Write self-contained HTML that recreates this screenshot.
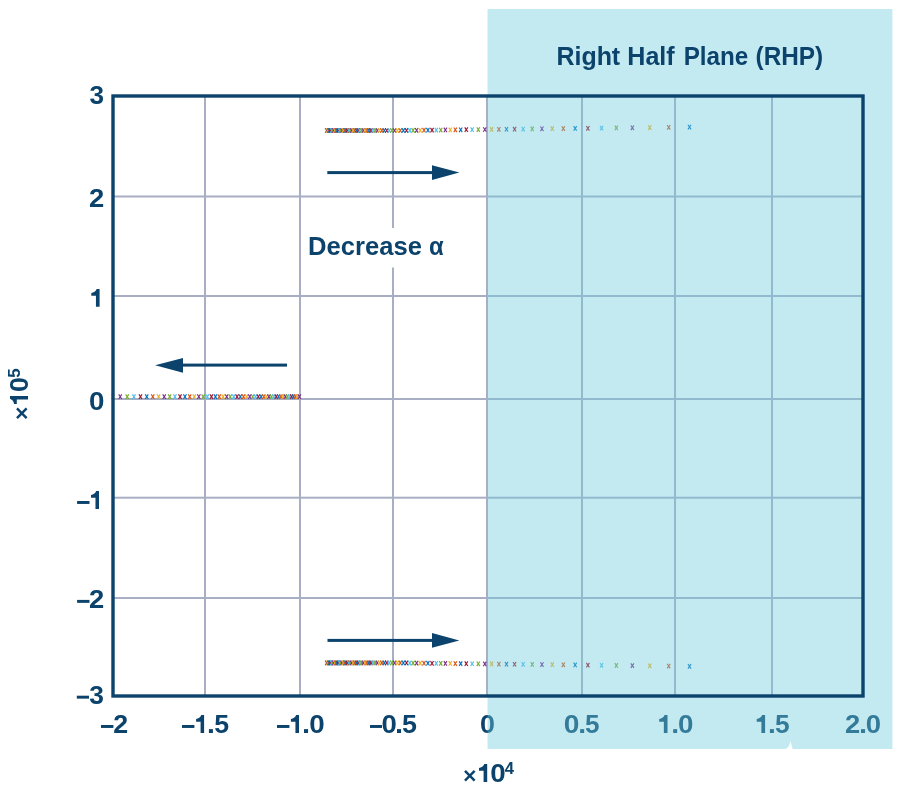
<!DOCTYPE html>
<html><head><meta charset="utf-8"><title>Root locus RHP</title>
<style>html,body{margin:0;padding:0;background:#fff;}body{width:903px;height:790px;overflow:hidden;font-family:"Liberation Sans",sans-serif;}svg{display:block;will-change:transform;}</style>
</head><body>
<svg width="903" height="790" viewBox="0 0 903 790" font-family="Liberation Sans, sans-serif" font-weight="bold"><rect x="204.00" y="96" width="2" height="600" fill="#A8AEC3"/>
<rect x="299.00" y="96" width="2" height="600" fill="#A8AEC3"/>
<rect x="392.00" y="96" width="2" height="600" fill="#A8AEC3"/>
<rect x="486.00" y="96" width="2" height="600" fill="#A8AEC3"/>
<rect x="581.00" y="96" width="2" height="600" fill="#A8AEC3"/>
<rect x="674.00" y="96" width="2" height="600" fill="#A8AEC3"/>
<rect x="771.00" y="96" width="2" height="600" fill="#A8AEC3"/>
<rect x="113" y="195.50" width="750" height="2" fill="#A8AEC3"/>
<rect x="113" y="295.00" width="750" height="2" fill="#A8AEC3"/>
<rect x="113" y="398.00" width="750" height="2" fill="#A8AEC3"/>
<rect x="113" y="496.70" width="750" height="2" fill="#A8AEC3"/>
<rect x="113" y="597.00" width="750" height="2" fill="#A8AEC3"/>
<rect x="304" y="228" width="146" height="39.5" fill="#fff"/>
<g stroke-width="1.15" fill="none"><path d="M111.40 394.40L114.50 399.00M114.50 394.40L111.40 399.00" stroke="#EDB120"/><path d="M118.68 394.40L121.78 399.00M121.78 394.40L118.68 399.00" stroke="#7E2F8E"/><path d="M125.69 394.40L128.79 399.00M128.79 394.40L125.69 399.00" stroke="#77AC30"/><path d="M132.43 394.40L135.53 399.00M135.53 394.40L132.43 399.00" stroke="#4DBEEE"/><path d="M138.93 394.40L142.03 399.00M142.03 394.40L138.93 399.00" stroke="#A2142F"/><path d="M145.19 394.40L148.29 399.00M148.29 394.40L145.19 399.00" stroke="#0072BD"/><path d="M151.23 394.40L154.33 399.00M154.33 394.40L151.23 399.00" stroke="#D95319"/><path d="M157.05 394.40L160.15 399.00M160.15 394.40L157.05 399.00" stroke="#EDB120"/><path d="M162.68 394.40L165.78 399.00M165.78 394.40L162.68 399.00" stroke="#7E2F8E"/><path d="M168.12 394.40L171.22 399.00M171.22 394.40L168.12 399.00" stroke="#77AC30"/><path d="M173.38 394.40L176.48 399.00M176.48 394.40L173.38 399.00" stroke="#4DBEEE"/><path d="M178.47 394.40L181.57 399.00M181.57 394.40L178.47 399.00" stroke="#A2142F"/><path d="M183.40 394.40L186.50 399.00M186.50 394.40L183.40 399.00" stroke="#0072BD"/><path d="M188.16 394.40L191.26 399.00M191.26 394.40L188.16 399.00" stroke="#D95319"/><path d="M192.79 394.40L195.89 399.00M195.89 394.40L192.79 399.00" stroke="#EDB120"/><path d="M197.27 394.40L200.37 399.00M200.37 394.40L197.27 399.00" stroke="#7E2F8E"/><path d="M201.61 394.40L204.71 399.00M204.71 394.40L201.61 399.00" stroke="#77AC30"/><path d="M205.83 394.40L208.93 399.00M208.93 394.40L205.83 399.00" stroke="#4DBEEE"/><path d="M209.92 394.40L213.02 399.00M213.02 394.40L209.92 399.00" stroke="#A2142F"/><path d="M213.90 394.40L217.00 399.00M217.00 394.40L213.90 399.00" stroke="#0072BD"/><path d="M217.76 394.40L220.86 399.00M220.86 394.40L217.76 399.00" stroke="#D95319"/><path d="M221.51 394.40L224.61 399.00M224.61 394.40L221.51 399.00" stroke="#EDB120"/><path d="M225.17 394.40L228.27 399.00M228.27 394.40L225.17 399.00" stroke="#7E2F8E"/><path d="M228.72 394.40L231.82 399.00M231.82 394.40L228.72 399.00" stroke="#77AC30"/><path d="M232.17 394.40L235.27 399.00M235.27 394.40L232.17 399.00" stroke="#4DBEEE"/><path d="M235.54 394.40L238.64 399.00M238.64 394.40L235.54 399.00" stroke="#A2142F"/><path d="M238.81 394.40L241.91 399.00M241.91 394.40L238.81 399.00" stroke="#0072BD"/><path d="M242.00 394.40L245.10 399.00M245.10 394.40L242.00 399.00" stroke="#D95319"/><path d="M245.11 394.40L248.21 399.00M248.21 394.40L245.11 399.00" stroke="#EDB120"/><path d="M248.15 394.40L251.25 399.00M251.25 394.40L248.15 399.00" stroke="#7E2F8E"/><path d="M251.10 394.40L254.20 399.00M254.20 394.40L251.10 399.00" stroke="#77AC30"/><path d="M253.99 394.40L257.09 399.00M257.09 394.40L253.99 399.00" stroke="#4DBEEE"/><path d="M256.80 394.40L259.90 399.00M259.90 394.40L256.80 399.00" stroke="#A2142F"/><path d="M259.55 394.40L262.65 399.00M262.65 394.40L259.55 399.00" stroke="#0072BD"/><path d="M262.23 394.40L265.33 399.00M265.33 394.40L262.23 399.00" stroke="#D95319"/><path d="M264.85 394.40L267.95 399.00M267.95 394.40L264.85 399.00" stroke="#EDB120"/><path d="M267.40 394.40L270.50 399.00M270.50 394.40L267.40 399.00" stroke="#7E2F8E"/><path d="M269.90 394.40L273.00 399.00M273.00 394.40L269.90 399.00" stroke="#77AC30"/><path d="M272.35 394.40L275.45 399.00M275.45 394.40L272.35 399.00" stroke="#4DBEEE"/><path d="M274.73 394.40L277.83 399.00M277.83 394.40L274.73 399.00" stroke="#A2142F"/><path d="M277.07 394.40L280.17 399.00M280.17 394.40L277.07 399.00" stroke="#0072BD"/><path d="M279.35 394.40L282.45 399.00M282.45 394.40L279.35 399.00" stroke="#D95319"/><path d="M281.59 394.40L284.69 399.00M284.69 394.40L281.59 399.00" stroke="#EDB120"/><path d="M283.78 394.40L286.88 399.00M286.88 394.40L283.78 399.00" stroke="#7E2F8E"/><path d="M285.92 394.40L289.02 399.00M289.02 394.40L285.92 399.00" stroke="#77AC30"/><path d="M288.01 394.40L291.11 399.00M291.11 394.40L288.01 399.00" stroke="#4DBEEE"/><path d="M290.06 394.40L293.16 399.00M293.16 394.40L290.06 399.00" stroke="#A2142F"/><path d="M292.07 394.40L295.17 399.00M295.17 394.40L292.07 399.00" stroke="#0072BD"/><path d="M294.04 394.40L297.14 399.00M297.14 394.40L294.04 399.00" stroke="#D95319"/><path d="M295.97 394.40L299.07 399.00M299.07 394.40L295.97 399.00" stroke="#EDB120"/><path d="M297.86 394.40L300.96 399.00M300.96 394.40L297.86 399.00" stroke="#7E2F8E"/><path d="M325.15 128.20L328.25 132.80M328.25 128.20L325.15 132.80" stroke="#7E2F8E"/><path d="M325.15 660.60L328.25 665.20M328.25 660.60L325.15 665.20" stroke="#7E2F8E"/><path d="M326.10 128.20L329.20 132.80M329.20 128.20L326.10 132.80" stroke="#EDB120"/><path d="M326.10 660.60L329.20 665.20M329.20 660.60L326.10 665.20" stroke="#EDB120"/><path d="M327.08 128.20L330.18 132.80M330.18 128.20L327.08 132.80" stroke="#D95319"/><path d="M327.08 660.60L330.18 665.20M330.18 660.60L327.08 665.20" stroke="#D95319"/><path d="M328.07 128.20L331.17 132.80M331.17 128.20L328.07 132.80" stroke="#0072BD"/><path d="M328.07 660.60L331.17 665.20M331.17 660.60L328.07 665.20" stroke="#0072BD"/><path d="M329.08 128.20L332.18 132.80M332.18 128.20L329.08 132.80" stroke="#A2142F"/><path d="M329.08 660.60L332.18 665.20M332.18 660.60L329.08 665.20" stroke="#A2142F"/><path d="M330.12 128.20L333.22 132.80M333.22 128.20L330.12 132.80" stroke="#4DBEEE"/><path d="M330.12 660.60L333.22 665.20M333.22 660.60L330.12 665.20" stroke="#4DBEEE"/><path d="M331.18 128.20L334.28 132.80M334.28 128.20L331.18 132.80" stroke="#77AC30"/><path d="M331.18 660.60L334.28 665.20M334.28 660.60L331.18 665.20" stroke="#77AC30"/><path d="M332.26 128.20L335.36 132.80M335.36 128.20L332.26 132.80" stroke="#7E2F8E"/><path d="M332.26 660.60L335.36 665.20M335.36 660.60L332.26 665.20" stroke="#7E2F8E"/><path d="M333.36 128.20L336.46 132.80M336.46 128.20L333.36 132.80" stroke="#EDB120"/><path d="M333.36 660.60L336.46 665.20M336.46 660.60L333.36 665.20" stroke="#EDB120"/><path d="M334.49 128.20L337.59 132.80M337.59 128.20L334.49 132.80" stroke="#D95319"/><path d="M334.49 660.60L337.59 665.20M337.59 660.60L334.49 665.20" stroke="#D95319"/><path d="M335.64 128.20L338.74 132.80M338.74 128.20L335.64 132.80" stroke="#0072BD"/><path d="M335.64 660.60L338.74 665.20M338.74 660.60L335.64 665.20" stroke="#0072BD"/><path d="M336.81 128.20L339.91 132.80M339.91 128.20L336.81 132.80" stroke="#A2142F"/><path d="M336.81 660.60L339.91 665.20M339.91 660.60L336.81 665.20" stroke="#A2142F"/><path d="M338.02 128.20L341.12 132.80M341.12 128.20L338.02 132.80" stroke="#4DBEEE"/><path d="M338.02 660.60L341.12 665.20M341.12 660.60L338.02 665.20" stroke="#4DBEEE"/><path d="M339.25 128.20L342.35 132.80M342.35 128.20L339.25 132.80" stroke="#77AC30"/><path d="M339.25 660.60L342.35 665.20M342.35 660.60L339.25 665.20" stroke="#77AC30"/><path d="M340.51 128.20L343.61 132.80M343.61 128.20L340.51 132.80" stroke="#7E2F8E"/><path d="M340.51 660.60L343.61 665.20M343.61 660.60L340.51 665.20" stroke="#7E2F8E"/><path d="M341.80 128.20L344.90 132.80M344.90 128.20L341.80 132.80" stroke="#EDB120"/><path d="M341.80 660.60L344.90 665.20M344.90 660.60L341.80 665.20" stroke="#EDB120"/><path d="M343.11 128.20L346.21 132.80M346.21 128.20L343.11 132.80" stroke="#D95319"/><path d="M343.11 660.60L346.21 665.20M346.21 660.60L343.11 665.20" stroke="#D95319"/><path d="M344.46 128.20L347.56 132.80M347.56 128.20L344.46 132.80" stroke="#0072BD"/><path d="M344.46 660.60L347.56 665.20M347.56 660.60L344.46 665.20" stroke="#0072BD"/><path d="M345.85 128.20L348.95 132.80M348.95 128.20L345.85 132.80" stroke="#A2142F"/><path d="M345.85 660.60L348.95 665.20M348.95 660.60L345.85 665.20" stroke="#A2142F"/><path d="M347.26 128.20L350.36 132.80M350.36 128.20L347.26 132.80" stroke="#4DBEEE"/><path d="M347.26 660.60L350.36 665.20M350.36 660.60L347.26 665.20" stroke="#4DBEEE"/><path d="M348.71 128.20L351.81 132.80M351.81 128.20L348.71 132.80" stroke="#77AC30"/><path d="M348.71 660.60L351.81 665.20M351.81 660.60L348.71 665.20" stroke="#77AC30"/><path d="M350.20 128.20L353.30 132.80M353.30 128.20L350.20 132.80" stroke="#7E2F8E"/><path d="M350.20 660.60L353.30 665.20M353.30 660.60L350.20 665.20" stroke="#7E2F8E"/><path d="M351.73 128.20L354.83 132.80M354.83 128.20L351.73 132.80" stroke="#EDB120"/><path d="M351.73 660.60L354.83 665.20M354.83 660.60L351.73 665.20" stroke="#EDB120"/><path d="M353.29 128.20L356.39 132.80M356.39 128.20L353.29 132.80" stroke="#D95319"/><path d="M353.29 660.60L356.39 665.20M356.39 660.60L353.29 665.20" stroke="#D95319"/><path d="M354.90 128.20L358.00 132.80M358.00 128.20L354.90 132.80" stroke="#0072BD"/><path d="M354.90 660.60L358.00 665.20M358.00 660.60L354.90 665.20" stroke="#0072BD"/><path d="M356.54 128.20L359.64 132.80M359.64 128.20L356.54 132.80" stroke="#A2142F"/><path d="M356.54 660.60L359.64 665.20M359.64 660.60L356.54 665.20" stroke="#A2142F"/><path d="M358.23 128.20L361.33 132.80M361.33 128.20L358.23 132.80" stroke="#4DBEEE"/><path d="M358.23 660.60L361.33 665.20M361.33 660.60L358.23 665.20" stroke="#4DBEEE"/><path d="M359.97 128.20L363.07 132.80M363.07 128.20L359.97 132.80" stroke="#77AC30"/><path d="M359.97 660.60L363.07 665.20M363.07 660.60L359.97 665.20" stroke="#77AC30"/><path d="M361.75 128.20L364.85 132.80M364.85 128.20L361.75 132.80" stroke="#7E2F8E"/><path d="M361.75 660.60L364.85 665.20M364.85 660.60L361.75 665.20" stroke="#7E2F8E"/><path d="M363.59 128.20L366.69 132.80M366.69 128.20L363.59 132.80" stroke="#EDB120"/><path d="M363.59 660.60L366.69 665.20M366.69 660.60L363.59 665.20" stroke="#EDB120"/><path d="M365.47 128.20L368.57 132.80M368.57 128.20L365.47 132.80" stroke="#D95319"/><path d="M365.47 660.60L368.57 665.20M368.57 660.60L365.47 665.20" stroke="#D95319"/><path d="M367.41 128.20L370.51 132.80M370.51 128.20L367.41 132.80" stroke="#0072BD"/><path d="M367.41 660.60L370.51 665.20M370.51 660.60L367.41 665.20" stroke="#0072BD"/><path d="M369.41 128.20L372.51 132.80M372.51 128.20L369.41 132.80" stroke="#A2142F"/><path d="M369.41 660.60L372.51 665.20M372.51 660.60L369.41 665.20" stroke="#A2142F"/><path d="M371.46 128.20L374.56 132.80M374.56 128.20L371.46 132.80" stroke="#4DBEEE"/><path d="M371.46 660.60L374.56 665.20M374.56 660.60L371.46 665.20" stroke="#4DBEEE"/><path d="M373.57 128.20L376.67 132.80M376.67 128.20L373.57 132.80" stroke="#77AC30"/><path d="M373.57 660.60L376.67 665.20M376.67 660.60L373.57 665.20" stroke="#77AC30"/><path d="M375.75 128.20L378.85 132.80M378.85 128.20L375.75 132.80" stroke="#7E2F8E"/><path d="M375.75 660.60L378.85 665.20M378.85 660.60L375.75 665.20" stroke="#7E2F8E"/><path d="M378.00 128.20L381.10 132.80M381.10 128.20L378.00 132.80" stroke="#EDB120"/><path d="M378.00 660.60L381.10 665.20M381.10 660.60L378.00 665.20" stroke="#EDB120"/><path d="M380.32 128.20L383.42 132.80M383.42 128.20L380.32 132.80" stroke="#D95319"/><path d="M380.32 660.60L383.42 665.20M383.42 660.60L380.32 665.20" stroke="#D95319"/><path d="M382.70 128.20L385.80 132.80M385.80 128.20L382.70 132.80" stroke="#0072BD"/><path d="M382.70 660.60L385.80 665.20M385.80 660.60L382.70 665.20" stroke="#0072BD"/><path d="M385.17 128.20L388.27 132.80M388.27 128.20L385.17 132.80" stroke="#A2142F"/><path d="M385.17 660.60L388.27 665.20M388.27 660.60L385.17 665.20" stroke="#A2142F"/><path d="M387.72 128.20L390.82 132.80M390.82 128.20L387.72 132.80" stroke="#4DBEEE"/><path d="M387.72 660.60L390.82 665.20M390.82 660.60L387.72 665.20" stroke="#4DBEEE"/><path d="M390.35 128.20L393.45 132.80M393.45 128.20L390.35 132.80" stroke="#77AC30"/><path d="M390.35 660.60L393.45 665.20M393.45 660.60L390.35 665.20" stroke="#77AC30"/><path d="M393.07 128.20L396.17 132.80M396.17 128.20L393.07 132.80" stroke="#7E2F8E"/><path d="M393.07 660.60L396.17 665.20M396.17 660.60L393.07 665.20" stroke="#7E2F8E"/><path d="M395.89 128.20L398.99 132.80M398.99 128.20L395.89 132.80" stroke="#EDB120"/><path d="M395.89 660.60L398.99 665.20M398.99 660.60L395.89 665.20" stroke="#EDB120"/><path d="M398.80 128.20L401.90 132.80M401.90 128.20L398.80 132.80" stroke="#D95319"/><path d="M398.80 660.60L401.90 665.20M401.90 660.60L398.80 665.20" stroke="#D95319"/><path d="M401.82 128.16L404.92 132.76M404.92 128.16L401.82 132.76" stroke="#0072BD"/><path d="M401.82 660.64L404.92 665.24M404.92 660.64L401.82 665.24" stroke="#0072BD"/><path d="M404.95 128.12L408.05 132.72M408.05 128.12L404.95 132.72" stroke="#A2142F"/><path d="M404.95 660.68L408.05 665.28M408.05 660.68L404.95 665.28" stroke="#A2142F"/><path d="M408.19 128.09L411.29 132.69M411.29 128.09L408.19 132.69" stroke="#4DBEEE"/><path d="M408.19 660.71L411.29 665.31M411.29 660.71L408.19 665.31" stroke="#4DBEEE"/><path d="M411.55 128.05L414.65 132.65M414.65 128.05L411.55 132.65" stroke="#77AC30"/><path d="M411.55 660.75L414.65 665.35M414.65 660.75L411.55 665.35" stroke="#77AC30"/><path d="M415.05 128.00L418.15 132.60M418.15 128.00L415.05 132.60" stroke="#7E2F8E"/><path d="M415.05 660.80L418.15 665.40M418.15 660.80L415.05 665.40" stroke="#7E2F8E"/><path d="M418.68 127.96L421.78 132.56M421.78 127.96L418.68 132.56" stroke="#EDB120"/><path d="M418.68 660.84L421.78 665.44M421.78 660.84L418.68 665.44" stroke="#EDB120"/><path d="M422.45 127.92L425.55 132.52M425.55 127.92L422.45 132.52" stroke="#D95319"/><path d="M422.45 660.88L425.55 665.48M425.55 660.88L422.45 665.48" stroke="#D95319"/><path d="M426.39 127.87L429.49 132.47M429.49 127.87L426.39 132.47" stroke="#0072BD"/><path d="M426.39 660.93L429.49 665.53M429.49 660.93L426.39 665.53" stroke="#0072BD"/><path d="M430.48 127.82L433.58 132.42M433.58 127.82L430.48 132.42" stroke="#A2142F"/><path d="M430.48 660.98L433.58 665.58M433.58 660.98L430.48 665.58" stroke="#A2142F"/><path d="M434.75 127.77L437.85 132.37M437.85 127.77L434.75 132.37" stroke="#4DBEEE"/><path d="M434.75 661.03L437.85 665.63M437.85 661.03L434.75 665.63" stroke="#4DBEEE"/><path d="M439.20 127.72L442.30 132.32M442.30 127.72L439.20 132.32" stroke="#77AC30"/><path d="M439.20 661.08L442.30 665.68M442.30 661.08L439.20 665.68" stroke="#77AC30"/><path d="M443.85 127.67L446.95 132.27M446.95 127.67L443.85 132.27" stroke="#7E2F8E"/><path d="M443.85 661.13L446.95 665.73M446.95 661.13L443.85 665.73" stroke="#7E2F8E"/><path d="M448.71 127.61L451.81 132.21M451.81 127.61L448.71 132.21" stroke="#EDB120"/><path d="M448.71 661.19L451.81 665.79M451.81 661.19L448.71 665.79" stroke="#EDB120"/><path d="M453.80 127.55L456.90 132.15M456.90 127.55L453.80 132.15" stroke="#D95319"/><path d="M453.80 661.25L456.90 665.85M456.90 661.25L453.80 665.85" stroke="#D95319"/><path d="M459.13 127.49L462.23 132.09M462.23 127.49L459.13 132.09" stroke="#0072BD"/><path d="M459.13 661.31L462.23 665.91M462.23 661.31L459.13 665.91" stroke="#0072BD"/><path d="M464.72 127.42L467.82 132.02M467.82 127.42L464.72 132.02" stroke="#A2142F"/><path d="M464.72 661.38L467.82 665.98M467.82 661.38L464.72 665.98" stroke="#A2142F"/><path d="M470.59 127.35L473.69 131.95M473.69 127.35L470.59 131.95" stroke="#4DBEEE"/><path d="M470.59 661.45L473.69 666.05M473.69 661.45L470.59 666.05" stroke="#4DBEEE"/><path d="M476.75 127.28L479.85 131.88M479.85 127.28L476.75 131.88" stroke="#77AC30"/><path d="M476.75 661.52L479.85 666.12M479.85 661.52L476.75 666.12" stroke="#77AC30"/><path d="M483.25 127.20L486.35 131.80M486.35 127.20L483.25 131.80" stroke="#7E2F8E"/><path d="M483.25 661.60L486.35 666.20M486.35 661.60L483.25 666.20" stroke="#7E2F8E"/><path d="M490.09 127.12L493.19 131.72M493.19 127.12L490.09 131.72" stroke="#EDB120"/><path d="M490.09 661.68L493.19 666.28M493.19 661.68L490.09 666.28" stroke="#EDB120"/><path d="M497.31 127.04L500.41 131.64M500.41 127.04L497.31 131.64" stroke="#D95319"/><path d="M497.31 661.76L500.41 666.36M500.41 661.76L497.31 666.36" stroke="#D95319"/><path d="M504.95 126.95L508.05 131.55M508.05 126.95L504.95 131.55" stroke="#0072BD"/><path d="M504.95 661.85L508.05 666.45M508.05 661.85L504.95 666.45" stroke="#0072BD"/><path d="M513.03 126.85L516.13 131.45M516.13 126.85L513.03 131.45" stroke="#A2142F"/><path d="M513.03 661.95L516.13 666.55M516.13 661.95L513.03 666.55" stroke="#A2142F"/><path d="M521.60 126.75L524.70 131.35M524.70 126.75L521.60 131.35" stroke="#4DBEEE"/><path d="M521.60 662.05L524.70 666.65M524.70 662.05L521.60 666.65" stroke="#4DBEEE"/><path d="M530.71 126.64L533.81 131.24M533.81 126.64L530.71 131.24" stroke="#77AC30"/><path d="M530.71 662.16L533.81 666.76M533.81 662.16L530.71 666.76" stroke="#77AC30"/><path d="M540.40 126.53L543.50 131.13M543.50 126.53L540.40 131.13" stroke="#7E2F8E"/><path d="M540.40 662.27L543.50 666.87M543.50 662.27L540.40 666.87" stroke="#7E2F8E"/><path d="M550.74 126.41L553.84 131.01M553.84 126.41L550.74 131.01" stroke="#EDB120"/><path d="M550.74 662.39L553.84 666.99M553.84 662.39L550.74 666.99" stroke="#EDB120"/><path d="M561.79 126.28L564.89 130.88M564.89 126.28L561.79 130.88" stroke="#D95319"/><path d="M561.79 662.52L564.89 667.12M564.89 662.52L561.79 667.12" stroke="#D95319"/><path d="M573.62 126.14L576.72 130.74M576.72 126.14L573.62 130.74" stroke="#0072BD"/><path d="M573.62 662.66L576.72 667.26M576.72 662.66L573.62 667.26" stroke="#0072BD"/><path d="M586.33 125.99L589.43 130.59M589.43 125.99L586.33 130.59" stroke="#A2142F"/><path d="M586.33 662.81L589.43 667.41M589.43 662.81L586.33 667.41" stroke="#A2142F"/><path d="M600.02 125.83L603.12 130.43M603.12 125.83L600.02 130.43" stroke="#4DBEEE"/><path d="M600.02 662.97L603.12 667.57M603.12 662.97L600.02 667.57" stroke="#4DBEEE"/><path d="M614.80 125.66L617.90 130.26M617.90 125.66L614.80 130.26" stroke="#77AC30"/><path d="M614.80 663.14L617.90 667.74M617.90 663.14L614.80 667.74" stroke="#77AC30"/><path d="M630.81 125.47L633.91 130.07M633.91 125.47L630.81 130.07" stroke="#7E2F8E"/><path d="M630.81 663.33L633.91 667.93M633.91 663.33L630.81 667.93" stroke="#7E2F8E"/><path d="M648.20 125.26L651.30 129.86M651.30 125.26L648.20 129.86" stroke="#EDB120"/><path d="M648.20 663.54L651.30 668.14M651.30 663.54L648.20 668.14" stroke="#EDB120"/><path d="M667.17 125.04L670.27 129.64M670.27 125.04L667.17 129.64" stroke="#D95319"/><path d="M667.17 663.76L670.27 668.36M670.27 663.76L667.17 668.36" stroke="#D95319"/><path d="M687.95 124.80L691.05 129.40M691.05 124.80L687.95 129.40" stroke="#0072BD"/><path d="M687.95 664.00L691.05 668.60M691.05 664.00L687.95 668.60" stroke="#0072BD"/></g>
<rect x="327.3" y="171.1" width="105.69999999999999" height="3" fill="#0B436C"/><path d="M432 165.29999999999998L459.3 172.6L432 179.9Z" fill="#0B436C"/>
<rect x="327.5" y="638.9" width="105.5" height="3" fill="#0B436C"/><path d="M432 633.1L459.3 640.4L432 647.6999999999999Z" fill="#0B436C"/>
<rect x="182" y="363.6" width="105" height="3" fill="#0B436C"/>
<path d="M183 357.9L155.1 365.3L183 372.8Z" fill="#0B436C"/>
<text x="89.40" y="103.60" font-size="26" textLength="14.55" lengthAdjust="spacingAndGlyphs" fill="#0B436C" >3</text>
<text x="89.05" y="206.80" font-size="26" textLength="15.25" lengthAdjust="spacingAndGlyphs" fill="#0B436C" >2</text>
<path d="M99.60 289.00L99.60 306.80L95.95 306.80L95.95 295.71L91.30 295.71L91.30 292.95C93.79 292.74 95.53 291.49 96.69 289.00Z" fill="#0B436C"/>
<text x="88.90" y="409.60" font-size="26" textLength="15.44" lengthAdjust="spacingAndGlyphs" fill="#0B436C" >0</text>
<rect x="77.10" y="501.00" width="12.40" height="2.95" fill="#0B436C"/><path d="M99.00 491.00L99.00 508.90L95.48 508.90L95.48 497.75L91.00 497.75L91.00 494.97C93.40 494.76 95.08 493.51 96.20 491.00Z" fill="#0B436C"/>
<rect x="77.10" y="599.90" width="12.40" height="2.95" fill="#0B436C"/><text x="89.05" y="607.80" font-size="26" textLength="15.25" lengthAdjust="spacingAndGlyphs" fill="#0B436C" >2</text>
<rect x="76.80" y="695.70" width="12.20" height="2.95" fill="#0B436C"/><text x="89.30" y="703.60" font-size="26" textLength="14.66" lengthAdjust="spacingAndGlyphs" fill="#0B436C" >3</text>
<rect x="101.00" y="725.00" width="12.40" height="2.95" fill="#0B436C"/><text x="113.17" y="732.90" font-size="26" textLength="14.90" lengthAdjust="spacingAndGlyphs" fill="#0B436C" >2</text>
<rect x="182.00" y="725.00" width="12.40" height="2.95" fill="#0B436C"/><path d="M204.10 715.00L204.10 732.90L200.58 732.90L200.58 721.75L196.10 721.75L196.10 718.97C198.50 718.76 200.18 717.51 201.30 715.00Z" fill="#0B436C"/><text x="207.08" y="732.90" font-size="26" textLength="7.88" lengthAdjust="spacingAndGlyphs" fill="#0B436C" >.</text><text x="214.38" y="732.90" font-size="26" textLength="14.87" lengthAdjust="spacingAndGlyphs" fill="#0B436C" >5</text>
<rect x="277.00" y="725.00" width="12.40" height="2.95" fill="#0B436C"/><path d="M299.00 715.00L299.00 732.90L295.44 732.90L295.44 721.75L290.90 721.75L290.90 718.97C293.33 718.76 295.03 717.51 296.16 715.00Z" fill="#0B436C"/><text x="301.93" y="732.90" font-size="26" textLength="8.07" lengthAdjust="spacingAndGlyphs" fill="#0B436C" >.</text><text x="309.30" y="732.90" font-size="26" textLength="15.44" lengthAdjust="spacingAndGlyphs" fill="#0B436C" >0</text>
<rect x="370.00" y="725.00" width="12.00" height="2.95" fill="#0B436C"/><text x="381.51" y="732.90" font-size="26" textLength="15.32" lengthAdjust="spacingAndGlyphs" fill="#0B436C" >0</text><text x="394.93" y="732.90" font-size="26" textLength="8.07" lengthAdjust="spacingAndGlyphs" fill="#0B436C" >.</text><text x="401.97" y="732.90" font-size="26" textLength="14.98" lengthAdjust="spacingAndGlyphs" fill="#0B436C" >5</text>
<text x="479.94" y="732.90" font-size="26" textLength="14.97" lengthAdjust="spacingAndGlyphs" fill="#0B436C" >0</text>
<text x="563.79" y="732.90" font-size="26" textLength="15.67" lengthAdjust="spacingAndGlyphs" fill="#0B436C" >0</text><text x="578.18" y="732.90" font-size="26" textLength="7.88" lengthAdjust="spacingAndGlyphs" fill="#0B436C" >.</text><text x="584.90" y="732.90" font-size="26" textLength="14.53" lengthAdjust="spacingAndGlyphs" fill="#0B436C" >5</text>
<path d="M667.50 715.00L667.50 732.90L663.85 732.90L663.85 721.75L659.20 721.75L659.20 718.97C661.69 718.76 663.43 717.51 664.60 715.00Z" fill="#0B436C"/><text x="671.18" y="732.90" font-size="26" textLength="7.88" lengthAdjust="spacingAndGlyphs" fill="#0B436C" >.</text><text x="677.90" y="732.90" font-size="26" textLength="15.44" lengthAdjust="spacingAndGlyphs" fill="#0B436C" >0</text>
<path d="M765.10 715.00L765.10 732.90L761.40 732.90L761.40 721.75L756.70 721.75L756.70 718.97C759.22 718.76 760.98 717.51 762.16 715.00Z" fill="#0B436C"/><text x="768.08" y="732.90" font-size="26" textLength="7.88" lengthAdjust="spacingAndGlyphs" fill="#0B436C" >.</text><text x="775.09" y="732.90" font-size="26" textLength="14.64" lengthAdjust="spacingAndGlyphs" fill="#0B436C" >5</text>
<text x="845.05" y="732.90" font-size="26" textLength="15.25" lengthAdjust="spacingAndGlyphs" fill="#0B436C" >2</text><text x="859.03" y="732.90" font-size="26" textLength="8.07" lengthAdjust="spacingAndGlyphs" fill="#0B436C" >.</text><text x="865.81" y="732.90" font-size="26" textLength="15.32" lengthAdjust="spacingAndGlyphs" fill="#0B436C" >0</text>
<path d="M487.5 9H892.4V749H792.6L790.4 740.9Q789.5 747 785.7 749H487.5Z" fill="rgb(111,204,221)" fill-opacity="0.41"/>
<rect x="113" y="96" width="750" height="600" fill="none" stroke="#0B436C" stroke-width="3.4"/>
<text x="556.43" y="64.70" font-size="25.6" textLength="63.77" lengthAdjust="spacingAndGlyphs" fill="#0B436C" >Right</text><text x="627.32" y="64.70" font-size="25.6" textLength="47.33" lengthAdjust="spacingAndGlyphs" fill="#0B436C" >Half</text><text x="683.68" y="64.70" font-size="25.6" textLength="64.65" lengthAdjust="spacingAndGlyphs" fill="#0B436C" >Plane</text><text x="755.59" y="64.70" font-size="25.6" textLength="67.63" lengthAdjust="spacingAndGlyphs" fill="#0B436C" >(RHP)</text>
<text x="308.09" y="254.90" font-size="25" textLength="113.89" lengthAdjust="spacingAndGlyphs" fill="#0B436C" >Decrease</text><text x="428.97" y="254.90" font-size="25" textLength="14.68" lengthAdjust="spacingAndGlyphs" fill="#0B436C" >α</text>
<path d="M464.97 770.97L474.63 780.53M474.63 770.97L464.97 780.53" stroke="#0B436C" stroke-width="2.45" fill="none"/><path d="M487.20 764.10L487.20 782.00L483.59 782.00L483.59 770.85L479.00 770.85L479.00 768.07C481.46 767.86 483.18 766.61 484.33 764.10Z" fill="#0B436C"/><text x="490.30" y="782.00" font-size="26" textLength="15.44" lengthAdjust="spacingAndGlyphs" fill="#0B436C" >0</text><text x="504.75" y="774.00" font-size="17.4" textLength="9.24" lengthAdjust="spacingAndGlyphs" fill="#0B436C" >4</text>
<g transform="translate(28 418.5) rotate(-90)"><path d="M0.47 -11.03L10.13 -1.37M10.13 -11.03L0.47 -1.37" stroke="#0B436C" stroke-width="2.45" fill="none"/><path d="M22.60 -18.00L22.60 0.00L19.08 0.00L19.08 -11.21L14.60 -11.21L14.60 -14.00C17.00 -14.22 18.68 -15.48 19.80 -18.00Z" fill="#0B436C"/><text x="26.44" y="0.00" font-size="26" textLength="14.97" lengthAdjust="spacingAndGlyphs" fill="#0B436C" >0</text><text x="40.68" y="-7.90" font-size="17.4" textLength="9.39" lengthAdjust="spacingAndGlyphs" fill="#0B436C" >5</text></g></svg>
</body></html>
